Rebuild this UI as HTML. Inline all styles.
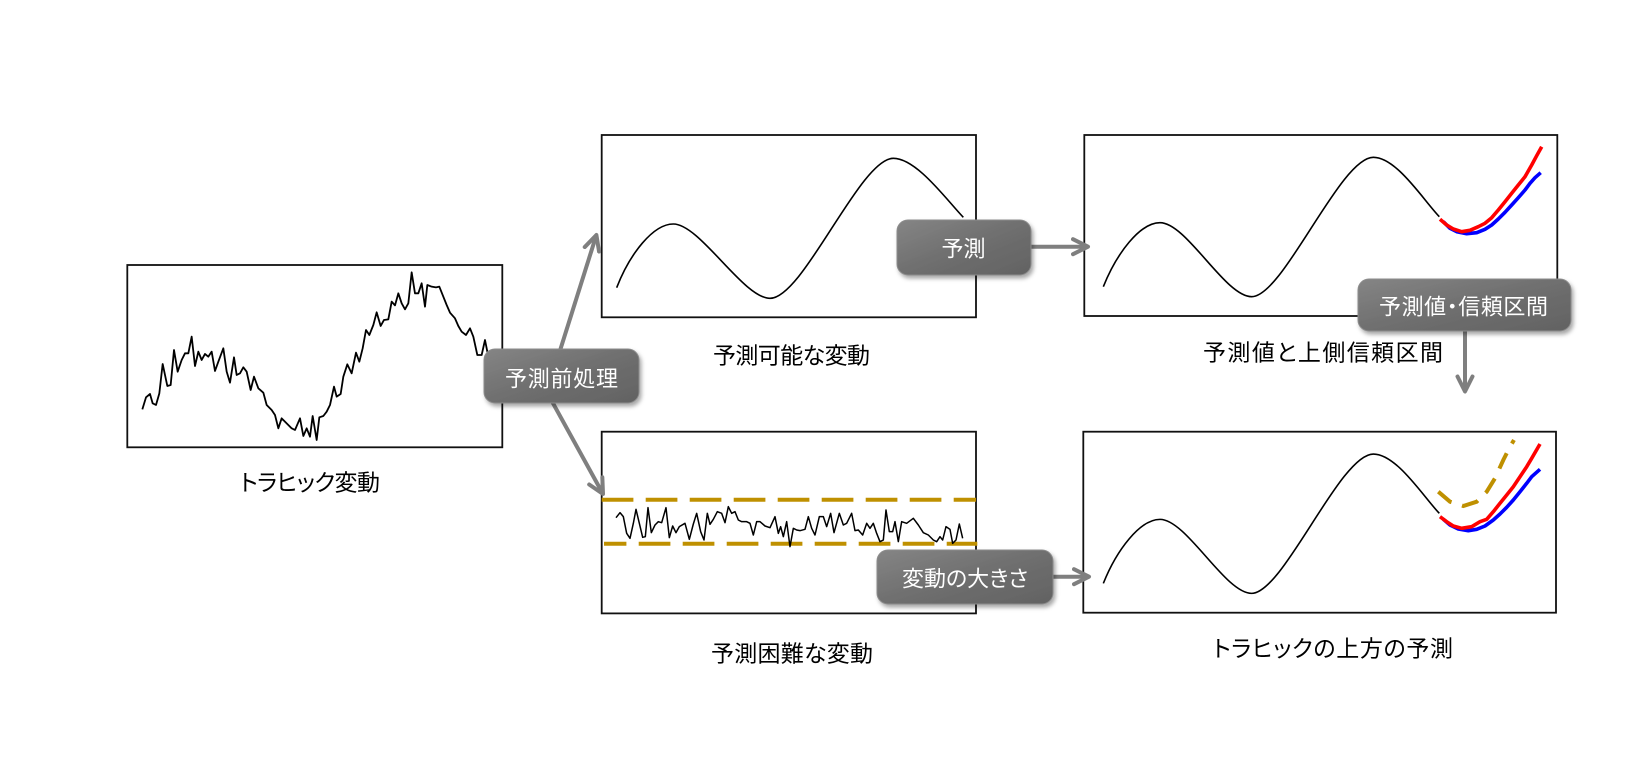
<!DOCTYPE html>
<html><head><meta charset="utf-8"><style>
html,body{margin:0;padding:0;background:#fff;}
svg{display:block;}
text{font-family:"Liberation Sans","Noto Sans CJK JP",sans-serif;font-feature-settings:"palt";}
</style></head><body>
<svg width="1639" height="780" viewBox="0 0 1639 780" xmlns="http://www.w3.org/2000/svg">
<defs>
<linearGradient id="bg" x1="0" y1="0" x2="1" y2="1">
<stop offset="0" stop-color="#858585"/><stop offset="0.5" stop-color="#6f6f6f"/><stop offset="1" stop-color="#626262"/>
</linearGradient>
<filter id="sh" x="-20%" y="-30%" width="140%" height="170%">
<feDropShadow dx="2" dy="3" stdDeviation="2" flood-color="#000" flood-opacity="0.35"/>
</filter>
<marker id="ah" markerWidth="20" markerHeight="20" refX="17" refY="10" orient="auto" markerUnits="userSpaceOnUse" viewBox="0 0 20 20">
<path d="M2,2.5 L17,10 L2,17.5" fill="none" stroke="#7f7f7f" stroke-width="4" stroke-linecap="round" stroke-linejoin="round"/>
</marker>
</defs>
<rect width="1639" height="780" fill="#fff"/>

<!-- boxes -->
<g fill="#fff" stroke="#111" stroke-width="1.8">
<rect x="127.3" y="265" width="375" height="182.3"/>
<rect x="601.7" y="135" width="374.3" height="182.3"/>
<rect x="601.7" y="431.7" width="374.3" height="181.7"/>
<rect x="1084.3" y="135" width="473" height="181"/>
<rect x="1083.3" y="431.7" width="472.7" height="181"/>
</g>

<!-- box1 noisy -->
<g transform="translate(110,240) scale(0.33333)">
<polyline vector-effect="non-scaling-stroke" fill="none" stroke="#000" stroke-width="1.8" stroke-linejoin="round" points="97,508 108,472 120,462 128,490 138,495 148,460 158,372 172,438 182,435 192,330 203,395 215,360 225,340 235,340 245,290 255,378 265,335 275,360 285,342 295,350 305,335 315,393 325,365 340,325 350,395 360,428 372,352 380,405 390,400 400,382 410,395 422,450 432,410 445,445 460,458 470,495 485,510 495,525 505,565 515,535 530,550 545,565 555,570 570,535 580,588 590,565 600,590 608,528 620,600 628,532 640,528 650,515 660,495 672,440 680,470 692,462 700,410 712,373 725,400 738,338 748,365 758,325 768,270 778,285 790,255 800,217 812,258 822,240 835,238 845,185 855,196 865,160 875,190 885,208 895,190 905,97 915,160 925,160 935,130 945,200 952,135 965,140 978,142 988,140 1000,170 1010,195 1020,218 1035,235 1045,258 1055,275 1068,285 1080,265 1090,290 1102,345 1115,345 1125,300 1133,340"/>
</g>

<!-- box2 smooth -->
<g transform="translate(570,120) scale(0.33333)">
<path vector-effect="non-scaling-stroke" fill="none" stroke="#000" stroke-width="1.6" d="M140,503 C180,400 250,312 310,312 C390,312 520,535 600,535 C700,535 870,115 970,115 C1040,115 1130,240 1180,292"/>
</g>

<!-- box3 dashed + noise -->
<line x1="601.7" y1="499.7" x2="976" y2="499.7" stroke="#BF9000" stroke-width="4" stroke-dasharray="31.7 12.3"/>
<line x1="604" y1="543.7" x2="977.3" y2="543.7" stroke="#BF9000" stroke-width="4" stroke-dasharray="31.7 12.3" stroke-dashoffset="9.3"/>
<g transform="translate(570,400) scale(0.33333)">
<polyline vector-effect="non-scaling-stroke" fill="none" stroke="#000" stroke-width="1.5" stroke-linejoin="round" points="138,353 150,338 160,350 170,400 180,415 190,370 198,328 208,370 218,412 226,410 234,323 244,398 255,375 265,365 275,368 288,323 298,413 308,378 318,398 328,380 345,370 358,418 370,372 380,340 392,395 402,420 412,340 420,373 430,358 442,335 455,340 465,368 475,320 485,340 495,335 505,360 515,365 530,365 540,370 550,405 560,365 570,365 585,378 600,383 615,350 625,400 632,380 640,410 650,365 660,440 670,385 680,390 690,392 705,388 715,350 725,385 735,405 748,350 760,350 770,380 782,340 792,398 808,340 820,375 830,370 845,340 855,392 865,390 878,405 890,370 900,385 910,370 920,400 930,425 940,420 948,330 958,395 968,395 975,365 985,425 995,365 1010,370 1030,355 1045,375 1060,398 1075,405 1090,420 1100,425 1110,410 1118,420 1128,380 1140,388 1148,430 1158,420 1168,372 1178,415"/>
</g>

<!-- box4 curve -->
<g transform="translate(1030,120) scale(0.33333)">
<path vector-effect="non-scaling-stroke" fill="none" stroke="#000" stroke-width="1.6" d="M220,500 C260,400 330,308 390,308 C470,308 585,530 665,530 C760,530 930,112 1030,112 C1100,112 1180,240 1228,290"/>
</g>
<polyline fill="none" stroke="#0000FF" stroke-width="3.6" stroke-linejoin="round" points="1443.3,221.7 1450,228.3 1456.7,231.7 1466.7,233.7 1476.7,232.7 1485,229.3 1491.7,225 1498.3,219 1505,212.3 1511.7,205 1518.3,197.7 1525,190 1530,183.3 1535,177.7 1540.7,172.7"/>
<polyline fill="none" stroke="#FF0000" stroke-width="3.6" stroke-linejoin="round" points="1440,219.3 1446.7,225 1453.3,229 1461.7,231.7 1470,230.3 1478.3,226.7 1485,223.3 1491.7,217.7 1498.3,210 1505,201.7 1511.7,193.3 1518.3,185 1525,176.7 1531.7,165 1536.7,155.7 1541.7,146.7"/>

<!-- box5 curve -->
<g transform="translate(1030,416.7) scale(0.33333)">
<path vector-effect="non-scaling-stroke" fill="none" stroke="#000" stroke-width="1.6" d="M220,500 C260,400 330,308 390,308 C470,308 585,530 665,530 C760,530 930,112 1030,112 C1100,112 1180,240 1228,290"/>
</g>
<polyline fill="none" stroke="#BF9000" stroke-width="4" stroke-dasharray="17 11" points="1438.3,491.7 1450,501.7 1463.3,506 1476.7,501.7 1486.7,491.7 1495,478.3 1503.3,460 1510,446.7 1514,440"/>
<polyline fill="none" stroke="#0000FF" stroke-width="3.6" stroke-linejoin="round" points="1443.3,519.3 1450,525 1458.3,529 1468.3,530.7 1476.7,529.3 1485,526 1493.3,520 1500,514 1506.7,507.3 1513.3,500 1520,491.7 1526.7,483.3 1531.7,476.7 1540,469.3"/>
<polyline fill="none" stroke="#FF0000" stroke-width="3.6" stroke-linejoin="round" points="1440,516.7 1446.7,521.7 1453.3,526 1461.7,528.3 1471.7,526.7 1480,521.7 1486.7,519.3 1493.3,511.7 1500,503.3 1506.7,495 1513.3,486.7 1520,476.7 1526.7,466.7 1531.7,458.3 1540,444"/>

<!-- arrows -->
<g stroke="#7f7f7f" stroke-width="4" fill="none">
<line x1="552" y1="376" x2="596.4" y2="235" marker-end="url(#ah)"/>
<line x1="538" y1="376" x2="603" y2="494" marker-end="url(#ah)"/>
<line x1="1000" y1="246.7" x2="1088" y2="246.7" marker-end="url(#ah)"/>
<line x1="1030" y1="576.7" x2="1089" y2="576.7" marker-end="url(#ah)"/>
<line x1="1465" y1="310" x2="1465" y2="391.5" marker-end="url(#ah)"/>
</g>

<!-- buttons -->
<g filter="url(#sh)" stroke="#8c8c8c" stroke-width="1">
<rect x="484" y="349" width="155" height="54" rx="11" fill="url(#bg)"/>
<rect x="897" y="220" width="134" height="55" rx="11" fill="url(#bg)"/>
<rect x="877" y="550" width="176" height="54" rx="11" fill="url(#bg)"/>
<rect x="1358" y="279" width="213" height="52" rx="11" fill="url(#bg)"/>
</g>
<g fill="#fff" font-size="22" text-anchor="middle">
<text x="561.5" y="386.4" textLength="113">予測前処理</text>
<text x="963.5" y="256.4" textLength="44">予測</text>
<text x="965" y="586.4" textLength="126">変動の大きさ</text>
<text x="1463.5" y="314.4" textLength="169">予測値・信頼区間</text>
</g>

<!-- labels -->
<g fill="#000" font-size="23" text-anchor="middle">
<text x="310" y="490.7" textLength="140">トラヒック変動</text>
<text x="791.5" y="363.7" textLength="157">予測可能な変動</text>
<text x="792" y="661.7" textLength="162">予測困難な変動</text>
<text x="1323" y="360.4" textLength="240">予測値と上側信頼区間</text>
<text x="1333" y="656.7" textLength="240">トラヒックの上方の予測</text>
</g>
</svg>
</body></html>
